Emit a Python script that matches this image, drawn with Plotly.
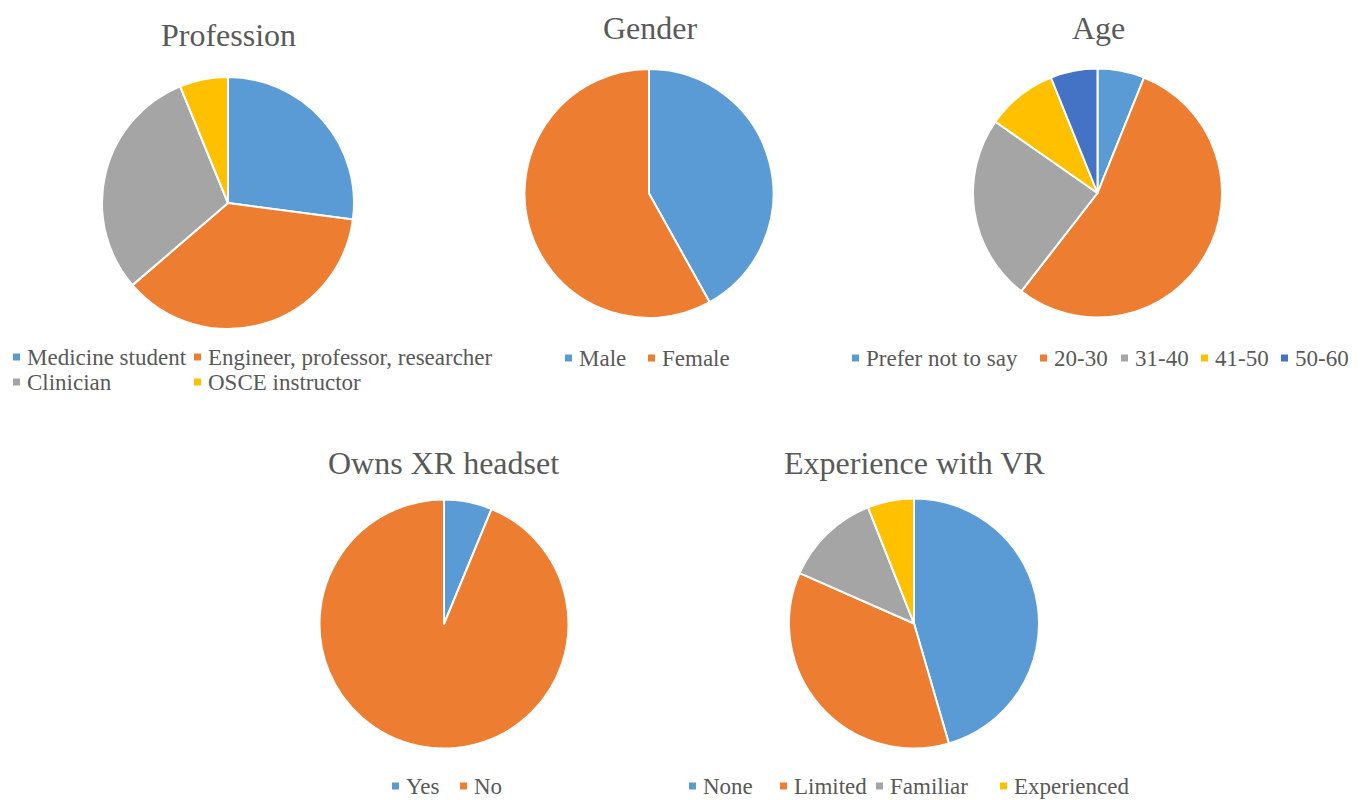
import plotly.graph_objects as go

# Survey shares (% of respondents) for each demographic question
profession_labels = ["Medicine student", "Engineer, professor, researcher", "Clinician", "OSCE instructor"]
profession_share = [27.1, 36.6, 30.1, 6.2]

gender_labels = ["Male", "Female"]
gender_share = [41.9, 58.1]

age_labels = ["Prefer not to say", "20-30", "31-40", "41-50", "50-60"]
age_share = [6.1, 54.4, 24.2, 9.2, 6.1]

headset_labels = ["Yes", "No"]
headset_share = [6.25, 93.75]

vr_labels = ["None", "Limited", "Familiar", "Experienced"]
vr_share = [45.5, 36.1, 12.4, 6.0]

W, H = 1368, 800
BLUE, ORANGE, GREY, GOLD, NAVY = "#5B9BD5", "#ED7D31", "#A5A5A5", "#FFC000", "#4472C4"
TEXT = "#595959"
FONT = "Liberation Serif"

palettes = {
    "Profession": [BLUE, ORANGE, GREY, GOLD],
    "Gender": [BLUE, ORANGE],
    "Age": [BLUE, ORANGE, GREY, GOLD, NAVY],
    "Owns XR headset": [BLUE, ORANGE],
    "Experience with VR": [BLUE, ORANGE, GREY, GOLD],
}

# panel layout in pixels: pie centre, radius, title centre, legend item anchors (square x, y)
panels = [
    ("Profession", profession_labels, profession_share, (228, 203), 126, (228, 35),
     [(13, 357), (194, 357), (13, 382), (194, 382)]),
    ("Gender", gender_labels, gender_share, (649, 193.5), 124.5, (650, 28),
     [(565, 358), (648, 358)]),
    ("Age", age_labels, age_share, (1097.5, 193), 124.5, (1098, 28),
     [(852, 358), (1040, 358), (1121, 358), (1201, 358), (1281, 358)]),
    ("Owns XR headset", headset_labels, headset_share, (444, 624), 124.5, (443, 463),
     [(392, 786), (460, 786)]),
    ("Experience with VR", vr_labels, vr_share, (914, 623.5), 125, (914, 463),
     [(689, 786), (780, 786), (876, 786), (1000, 786)]),
]


def px(x):
    return x / W


def py(y):
    return 1 - y / H


fig = go.Figure()
annotations = []
shapes = []
SQ = 7

for title, labels, values, (cx, cy), r, (tx, ty), legend_pos in panels:
    colors = palettes[title]
    fig.add_trace(go.Pie(
        labels=labels,
        values=values,
        sort=False,
        direction="clockwise",
        rotation=0,
        textinfo="none",
        hoverinfo="label+percent",
        showlegend=False,
        marker=dict(colors=colors, line=dict(color="white", width=2)),
        domain=dict(x=[px(cx - r), px(cx + r)], y=[py(cy + r), py(cy - r)]),
    ))
    annotations.append(dict(
        text=title, x=px(tx), y=py(ty), xref="paper", yref="paper",
        xanchor="center", yanchor="middle", showarrow=False,
        font=dict(family=FONT, size=32, color=TEXT),
    ))
    # legend entries: coloured square followed by the category name
    for label, color, (lx, ly) in zip(labels, colors, legend_pos):
        shapes.append(dict(
            type="rect", xref="paper", yref="paper",
            x0=px(lx), x1=px(lx + SQ), y0=py(ly + SQ / 2), y1=py(ly - SQ / 2),
            fillcolor=color, line=dict(width=0),
        ))
        annotations.append(dict(
            text=label, x=px(lx + SQ + 5), y=py(ly), xref="paper", yref="paper",
            xanchor="left", yanchor="middle", showarrow=False,
            font=dict(family=FONT, size=23, color=TEXT),
        ))

fig.update_layout(
    width=W, height=H,
    margin=dict(l=0, r=0, t=0, b=0),
    paper_bgcolor="white",
    plot_bgcolor="white",
    annotations=annotations,
    shapes=shapes,
)

fig.write_html("out.html")
